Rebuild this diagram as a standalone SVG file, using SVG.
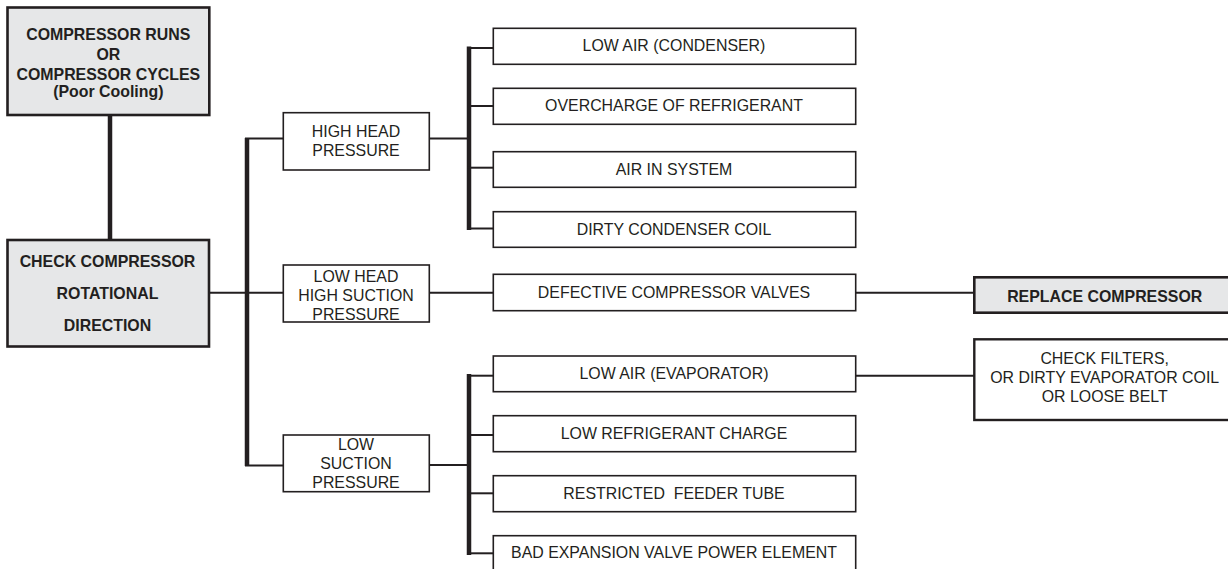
<svg xmlns="http://www.w3.org/2000/svg" width="1228" height="569" viewBox="0 0 1228 569">
<style>
text{font-family:"Liberation Sans",Arial,sans-serif;font-size:15.9px;fill:#231f20;text-anchor:middle}
.b{font-weight:bold}
.key{fill:#e6e7e8;stroke:#231f20;stroke-width:2.6}
.box{fill:#fff;stroke:#231f20;stroke-width:1.6}
.thin{stroke:#231f20;stroke-width:2;fill:none}
.thick{stroke:#231f20;stroke-width:4.5;fill:none}
</style>
<rect width="1228" height="569" fill="#fff"/>
<g id="connectors">
<line class="thick" x1="110" y1="115" x2="110" y2="240"/>
<line class="thin" x1="209" y1="292.7" x2="283.3" y2="292.7"/>
<line class="thick" x1="247" y1="138" x2="247" y2="466"/>
<line class="thin" x1="245" y1="138.5" x2="283.3" y2="138.5"/>
<line class="thin" x1="245" y1="465.5" x2="283.3" y2="465.5"/>
<line class="thin" x1="429.3" y1="138.5" x2="469" y2="138.5"/>
<line class="thick" x1="469" y1="46.5" x2="469" y2="230"/>
<line class="thin" x1="467" y1="48" x2="493.3" y2="48"/>
<line class="thin" x1="467" y1="106" x2="493.3" y2="106"/>
<line class="thin" x1="467" y1="167.7" x2="493.3" y2="167.7"/>
<line class="thin" x1="467" y1="228.5" x2="493.3" y2="228.5"/>
<line class="thin" x1="429.3" y1="292.7" x2="493.3" y2="292.7"/>
<line class="thin" x1="855.7" y1="292.7" x2="974.3" y2="292.7"/>
<line class="thin" x1="429.3" y1="465" x2="469" y2="465"/>
<line class="thick" x1="469" y1="374" x2="469" y2="555"/>
<line class="thin" x1="467" y1="375.7" x2="493.3" y2="375.7"/>
<line class="thin" x1="467" y1="435" x2="493.3" y2="435"/>
<line class="thin" x1="467" y1="493.3" x2="493.3" y2="493.3"/>
<line class="thin" x1="467" y1="553.3" x2="493.3" y2="553.3"/>
<line class="thin" x1="855.7" y1="375.7" x2="974.3" y2="375.7"/>
</g>
<g id="n-start">
<rect class="key" x="7.5" y="7.5" width="201.8" height="107.5"/>
<text class="b" x="108.3" y="40">COMPRESSOR RUNS</text>
<text class="b" x="108.3" y="60">OR</text>
<text class="b" x="108.3" y="80">COMPRESSOR CYCLES</text>
<text class="b" x="108.3" y="97">(Poor Cooling)</text>
</g>
<g id="n-check">
<rect class="key" x="7.5" y="240" width="201.5" height="106.5"/>
<text class="b" x="107.5" y="267">CHECK COMPRESSOR</text>
<text class="b" x="107.5" y="299">ROTATIONAL</text>
<text class="b" x="107.5" y="331">DIRECTION</text>
</g>
<g id="n-highhead">
<rect class="box" x="283.3" y="112.7" width="146" height="57.3"/>
<text x="356" y="136.5">HIGH HEAD</text>
<text x="356" y="155.5">PRESSURE</text>
</g>
<g id="n-lowhead">
<rect class="box" x="283.3" y="265" width="146" height="57"/>
<text x="356" y="281.7">LOW HEAD</text>
<text x="356" y="300.7">HIGH SUCTION</text>
<text x="356" y="319.7">PRESSURE</text>
</g>
<g id="n-lowsuction">
<rect class="box" x="283.3" y="435" width="146" height="56.7"/>
<text x="356" y="450">LOW</text>
<text x="356" y="469.3">SUCTION</text>
<text x="356" y="488.3">PRESSURE</text>
</g>
<g id="n-lowaircond">
<rect class="box" x="493.3" y="28.3" width="362.4" height="36"/>
<text x="674" y="51">LOW AIR (CONDENSER)</text>
</g>
<g id="n-overcharge">
<rect class="box" x="493.3" y="88.3" width="362.4" height="36"/>
<text x="674" y="111">OVERCHARGE OF REFRIGERANT</text>
</g>
<g id="n-airinsys">
<rect class="box" x="493.3" y="151.7" width="362.4" height="35.6"/>
<text x="674" y="174.5">AIR IN SYSTEM</text>
</g>
<g id="n-dirtycond">
<rect class="box" x="493.3" y="211.7" width="362.4" height="35.6"/>
<text x="674" y="234.5">DIRTY CONDENSER COIL</text>
</g>
<g id="n-defvalves">
<rect class="box" x="493.3" y="274.3" width="362.4" height="36.4"/>
<text x="674" y="297.5">DEFECTIVE COMPRESSOR VALVES</text>
</g>
<g id="n-lowairevap">
<rect class="box" x="493.3" y="356" width="362.4" height="35.7"/>
<text x="674" y="379">LOW AIR (EVAPORATOR)</text>
</g>
<g id="n-lowcharge">
<rect class="box" x="493.3" y="415.7" width="362.4" height="36"/>
<text x="674" y="439">LOW REFRIGERANT CHARGE</text>
</g>
<g id="n-feeder">
<rect class="box" x="493.3" y="475.7" width="362.4" height="36"/>
<text x="674" y="499" xml:space="preserve">RESTRICTED  FEEDER TUBE</text>
</g>
<g id="n-expansion">
<rect class="box" x="493.3" y="535.7" width="362.4" height="40"/>
<text x="674" y="557.5">BAD EXPANSION VALVE POWER ELEMENT</text>
</g>
<g id="n-replace">
<rect class="key" x="974.3" y="277.3" width="270" height="35.4"/>
<text class="b" x="1104.7" y="301.5">REPLACE COMPRESSOR</text>
</g>
<g id="n-filters">
<rect class="box" style="stroke-width:2.4" x="974.3" y="339.3" width="270" height="80.7"/>
<text x="1104.7" y="364.3">CHECK FILTERS,</text>
<text x="1104.7" y="383.3">OR DIRTY EVAPORATOR COIL</text>
<text x="1104.7" y="402">OR LOOSE BELT</text>
</g>
</svg>
